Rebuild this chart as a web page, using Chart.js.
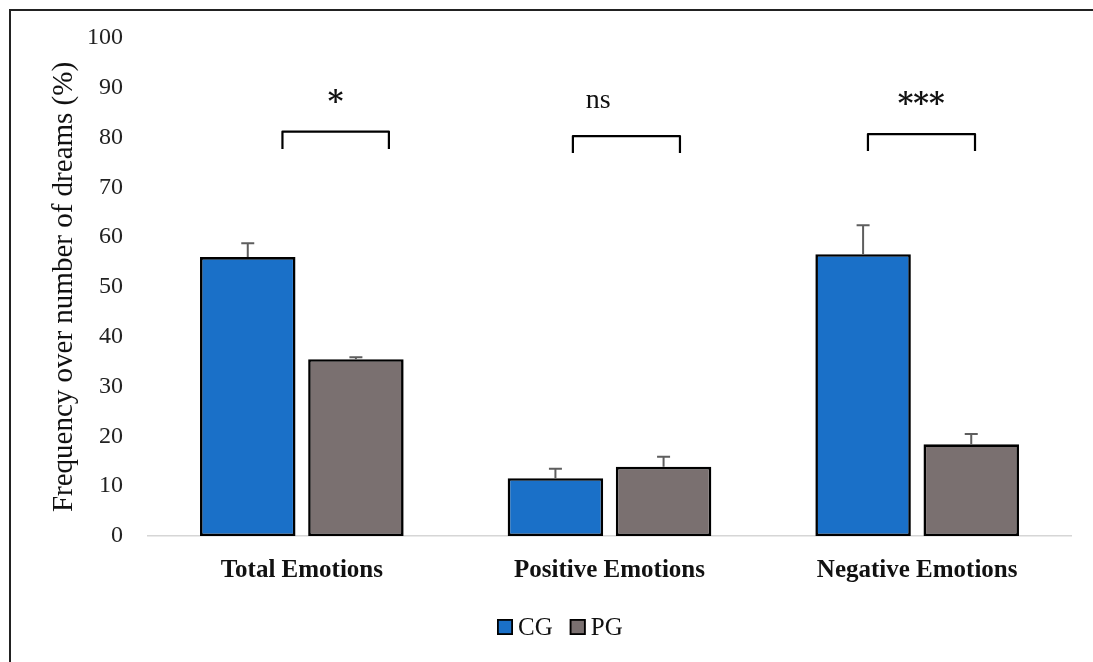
<!DOCTYPE html>
<html>
<head>
<meta charset="utf-8">
<script src="https://cdn.jsdelivr.net/npm/chart.js@4.4.0/dist/chart.umd.min.js"></script>
<style>
html,body{margin:0;padding:0;background:#fff;}
#wrap{position:relative;width:1093px;height:662px;overflow:hidden;}
</style>
</head>
<body>
<div id="wrap"><canvas id="c" width="1093" height="662"></canvas></div>
<script>
// ---- data ----
const categories = ['Total Emotions', 'Positive Emotions', 'Negative Emotions'];
const seriesNames = ['CG', 'PG'];
const cgValues = [56.0, 11.6, 56.6];
const pgValues = [35.5, 13.9, 18.4];
const cgErrors = [2.8, 1.9, 5.8];
const pgErrors = [0.4, 2.0, 2.1];
const yMin = 0, yMax = 100, yStep = 10;
const yTitle = 'Frequency over number of dreams (%)';
// significance annotations (x in category-index units, y in data units)
const sigLabels = ['*', 'ns', '***'];
const sigLabelX = [0.110, 0.963, 2.013];
const sigLabelY = [85.4, 86.0, 85.0];
const bracketLeft = [-0.063, 0.881, 1.840];
const bracketRight = [0.283, 1.229, 2.188];
const bracketTop = [81.2, 80.3, 80.7];
const bracketBottom = [77.7, 76.9, 77.3];

const colors = ['#1a70c8', '#7a7070'];
const SERIF = '"Liberation Serif", "Times New Roman", serif';

const errorsBySeries = [cgErrors, pgErrors];

const decorPlugin = {
  id: 'decor',
  beforeDraw(chart) {
    const ctx = chart.ctx;
    ctx.save();
    ctx.fillStyle = '#fff';
    ctx.fillRect(0, 0, chart.width, chart.height);
    ctx.restore();
  },
  afterDatasetsDraw(chart) {
    const ctx = chart.ctx;
    const yS = chart.scales.y, xS = chart.scales.x;
    ctx.save();
    // error bars
    chart.data.datasets.forEach((ds, i) => {
      const meta = chart.getDatasetMeta(i);
      meta.data.forEach((bar, j) => {
        const v = ds.data[j], e = errorsBySeries[i][j];
        const yTop = yS.getPixelForValue(v + e);
        ctx.strokeStyle = '#5e5e5e';
        ctx.lineWidth = 2;
        ctx.beginPath();
        ctx.moveTo(bar.x, bar.y);
        ctx.lineTo(bar.x, yTop);
        ctx.moveTo(bar.x - 6.5, yTop);
        ctx.lineTo(bar.x + 6.5, yTop);
        ctx.stroke();
      });
    });
    // brackets
    ctx.strokeStyle = '#000';
    ctx.lineWidth = 2.2;
    ctx.lineJoin = 'round';
    for (let k = 0; k < sigLabels.length; k++) {
      const xl = xS.getPixelForValue(bracketLeft[k]);
      const xr = xS.getPixelForValue(bracketRight[k]);
      const yt = yS.getPixelForValue(bracketTop[k]);
      const yb = yS.getPixelForValue(bracketBottom[k]);
      ctx.beginPath();
      ctx.moveTo(xl, yb);
      ctx.lineTo(xl, yt);
      ctx.lineTo(xr, yt);
      ctx.lineTo(xr, yb);
      ctx.stroke();
      ctx.fillStyle = '#111';
      const isStar = sigLabels[k].indexOf('*') >= 0;
      ctx.font = isStar ? 'bold 30px "DejaVu Serif", serif' : '28px ' + SERIF;
      ctx.textAlign = 'center';
      ctx.textBaseline = 'alphabetic';
      ctx.fillText(sigLabels[k], xS.getPixelForValue(sigLabelX[k]), yS.getPixelForValue(sigLabelY[k]));
    }
    ctx.restore();
  },
  afterDraw(chart) {
    const ctx = chart.ctx;
    const area = chart.chartArea;
    ctx.save();
    // y-axis title
    ctx.translate(72, (area.top + area.bottom) / 2);
    ctx.rotate(-Math.PI / 2);
    ctx.fillStyle = '#111';
    ctx.font = '29px ' + SERIF;
    ctx.textAlign = 'center';
    ctx.textBaseline = 'alphabetic';
    ctx.fillText(yTitle, 0, 0);
    ctx.restore();

    // legend
    ctx.save();
    ctx.font = '25px ' + SERIF;
    ctx.textBaseline = 'alphabetic';
    ctx.textAlign = 'left';
    let x = 497;
    const boxTop = 619, box = 16, baseline = 635;
    chart.data.datasets.forEach((ds, i) => {
      ctx.fillStyle = ds.backgroundColor;
      ctx.fillRect(x, boxTop, box, box);
      ctx.strokeStyle = '#000';
      ctx.lineWidth = 1.8;
      ctx.strokeRect(x + 0.9, boxTop + 0.9, box - 1.8, box - 1.8);
      ctx.fillStyle = '#111';
      ctx.fillText(ds.label, x + box + 5, baseline);
      x += box + 5 + ctx.measureText(ds.label).width + 17;
    });
    ctx.restore();

    // frame (top and left edges)
    ctx.save();
    ctx.strokeStyle = '#222';
    ctx.lineWidth = 2;
    ctx.beginPath();
    ctx.moveTo(10, chart.height);
    ctx.lineTo(10, 10);
    ctx.lineTo(chart.width, 10);
    ctx.stroke();
    ctx.restore();
  }
};

new Chart(document.getElementById('c'), {
  type: 'bar',
  data: {
    labels: categories,
    datasets: [
      { label: seriesNames[0], data: cgValues, backgroundColor: colors[0], borderColor: '#000', borderWidth: 2.6, borderSkipped: false },
      { label: seriesNames[1], data: pgValues, backgroundColor: colors[1], borderColor: '#000', borderWidth: 2.6, borderSkipped: false }
    ]
  },
  options: {
    responsive: false,
    animation: false,
    devicePixelRatio: 1,
    layout: { padding: { top: 38, right: 22, bottom: 0, left: 0 } },
    datasets: { bar: { categoryPercentage: 0.703, barPercentage: 0.883 } },
    plugins: { legend: { display: false }, tooltip: { enabled: false } },
    scales: {
      x: {
        grid: { display: false, drawTicks: false },
        border: { display: true, color: '#d6d6d6', width: 1.5 },
        ticks: { font: { family: SERIF, size: 25, weight: 'bold' }, color: '#111', padding: 20, maxRotation: 0 },
        afterFit(s) { s.height = 126; s.paddingLeft = 0; s.paddingRight = 0; }
      },
      y: {
        min: yMin, max: yMax,
        grid: { display: false, drawTicks: false },
        border: { display: false },
        ticks: { stepSize: yStep, font: { family: SERIF, size: 24 }, color: '#222', padding: 25 },
        afterFit(s) { s.width = 148; s.paddingTop = 0; s.paddingBottom = 0; }
      }
    }
  },
  plugins: [decorPlugin]
});
</script>
</body>
</html>
